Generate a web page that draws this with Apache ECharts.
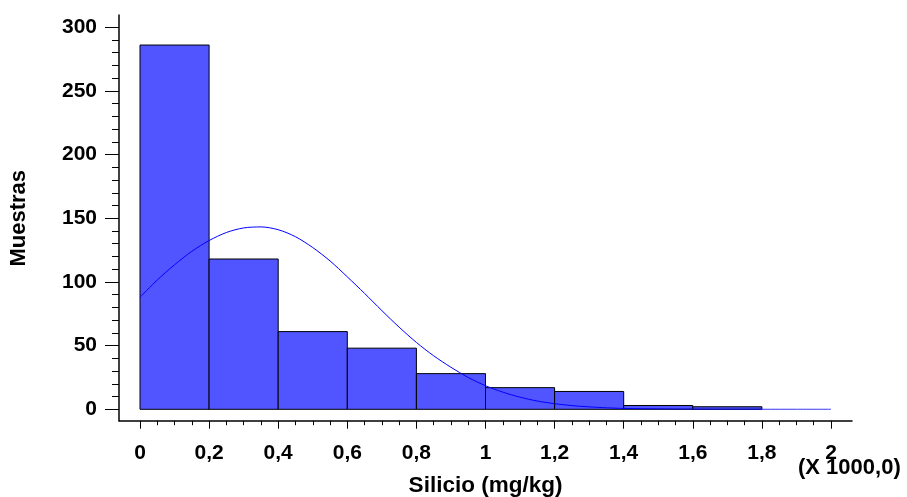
<!DOCTYPE html>
<html>
<head>
<meta charset="utf-8">
<style>html,body{margin:0;padding:0;background:#fff;}#c{width:907px;height:497px;}</style>
<script src="https://cdn.jsdelivr.net/npm/echarts@6/dist/echarts.min.js"></script>
</head>
<body>
<div id="c"></div>
<script>
// Histogram bins (x in thousands of mg/kg)
const binStart = [0, 0.2, 0.4, 0.6, 0.8, 1.0, 1.2, 1.4, 1.6, 1.8];
const binEnd   = [0.2, 0.4, 0.6, 0.8, 1.0, 1.2, 1.4, 1.6, 1.8, 2.0];
const counts   = [286, 118, 61, 48, 28, 17, 14, 3, 2, 0];
// Fitted normal curve
const fitX = [0, 0.05, 0.1, 0.15, 0.2, 0.25, 0.3, 0.35, 0.4, 0.45, 0.5, 0.55, 0.6, 0.65, 0.7, 0.75, 0.8, 0.85, 0.9, 0.95, 1.0, 1.05, 1.1, 1.15, 1.2, 1.25, 1.3, 1.35, 1.4, 1.5, 1.6, 1.7, 1.8, 1.9, 2.0];
const fitY = [88, 101.5, 113.5, 124, 132.5, 138.8, 142.4, 143.2, 141, 135.5, 127, 116.5, 104, 91, 77.5, 64.5, 52.5, 42, 33, 25, 18.5, 13.5, 9.5, 6.5, 4.4, 2.9, 1.9, 1.2, 0.7, 0.3, 0.1, 0, 0, 0, 0];
const xTicks = [0, 0.2, 0.4, 0.6, 0.8, 1, 1.2, 1.4, 1.6, 1.8, 2];
const yTicks = [0, 50, 100, 150, 200, 250, 300];

const FONT = '"Liberation Sans", Arial, sans-serif';
const chart = echarts.init(document.getElementById('c'), null, {renderer: 'canvas'});

const histData = binStart.map((s, i) => [s, binEnd[i], counts[i]]);
const fitData = fitX.map((x, i) => [x, fitY[i]]);

chart.setOption({
  animation: false,
  grid: [
    {left: 140, right: 76, top: 27.2, bottom: 87.7, outerBoundsMode: 'none', containLabel: false},
    {left: 119, right: 55, top: 15, bottom: 76.3, outerBoundsMode: 'none', containLabel: false}
  ],
  xAxis: [
    {
      type: 'value', gridIndex: 0, min: xTicks[0], max: xTicks[xTicks.length - 1], interval: 0.2,
      offset: 11.4,
      axisLine: {show: false, onZero: false},
      axisTick: {show: true, length: 8, lineStyle: {color: '#000', width: 1}},
      minorTick: {show: true, splitNumber: 4, length: 4.5, lineStyle: {color: '#000', width: 1}},
      splitLine: {show: false},
      axisLabel: {
        margin: 22, color: '#000', fontFamily: FONT, fontWeight: 'bold', fontSize: 21,
        formatter: v => String(Math.round(v * 10) / 10).replace('.', ',')
      },
      name: 'Silicio (mg/kg)', nameLocation: 'middle', nameGap: 54,
      nameTextStyle: {color: '#000', fontFamily: FONT, fontWeight: 'bold', fontSize: 22.5}
    },
    {
      type: 'value', gridIndex: 1, min: 0, max: 1,
      axisLine: {show: true, onZero: false, lineStyle: {color: '#000', width: 1.5}},
      axisTick: {show: false}, axisLabel: {show: false}, splitLine: {show: false}
    }
  ],
  yAxis: [
    {
      type: 'value', gridIndex: 0, min: yTicks[0], max: yTicks[yTicks.length - 1], interval: 50,
      offset: 21,
      axisLine: {show: false, onZero: false},
      axisTick: {show: true, length: 14, lineStyle: {color: '#000', width: 1}},
      minorTick: {show: true, splitNumber: 5, length: 7, lineStyle: {color: '#000', width: 1}},
      splitLine: {show: false},
      axisLabel: {margin: 22, color: '#000', fontFamily: FONT, fontWeight: 'bold', fontSize: 21},
      name: 'Muestras', nameLocation: 'middle', nameRotate: 90, nameGap: 89,
      nameTextStyle: {color: '#000', fontFamily: FONT, fontWeight: 'bold', fontSize: 22}
    },
    {
      type: 'value', gridIndex: 1, min: 0, max: 1,
      axisLine: {show: true, onZero: false, lineStyle: {color: '#000', width: 1.5}},
      axisTick: {show: false}, axisLabel: {show: false}, splitLine: {show: false}
    }
  ],
  series: [
    {
      type: 'custom', xAxisIndex: 0, yAxisIndex: 0,
      data: histData,
      encode: {x: [0, 1], y: 2},
      renderItem: function (params, api) {
        const c = api.value(2);
        if (!c) return null;
        const p1 = api.coord([api.value(0), c]);
        const p2 = api.coord([api.value(1), 0]);
        return {
          type: 'rect',
          shape: {x: p1[0], y: p1[1], width: p2[0] - p1[0], height: p2[1] - p1[1]},
          style: {fill: '#5055FF', stroke: '#000', lineWidth: 1}
        };
      }
    },
    {
      type: 'line', xAxisIndex: 0, yAxisIndex: 0,
      data: fitData, showSymbol: false, symbol: 'none', smooth: 0.3,
      lineStyle: {color: '#0000FF', width: 1}
    }
  ],
  graphic: [
    {
      type: 'text', left: 798, top: 457,
      style: {text: '(X 1000,0)', fill: '#000', font: 'bold 22px ' + FONT}
    }
  ]
});
</script>
</body>
</html>
